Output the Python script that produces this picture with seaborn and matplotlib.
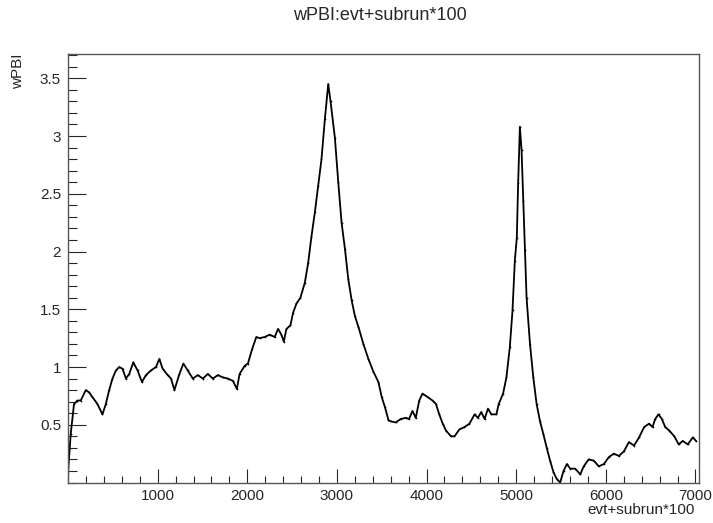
import seaborn as sns
from matplotlib import pyplot as plt
from matplotlib.ticker import MultipleLocator
import pandas as pd

# values
evt = [0, 30, 67, 104, 142, 198, 235, 272, 328, 384, 422, 459, 496, 534, 571,
       608, 646, 683, 728, 776, 825, 869, 925, 981, 1019, 1056, 1112, 1149,
       1187, 1243, 1287, 1336, 1392, 1448, 1504, 1560, 1616, 1672, 1728, 1784,
       1840, 1884, 1914, 1970, 2007, 2056, 2101, 2138, 2194, 2250, 2306, 2343,
       2381, 2407, 2437, 2481, 2511, 2549, 2593, 2642, 2679, 2716, 2754, 2791,
       2828, 2866, 2903, 2929, 2978, 3015, 3052, 3090, 3127, 3164, 3201, 3239,
       3295, 3351, 3407, 3463, 3500, 3537, 3575, 3599, 3655, 3712, 3768, 3805,
       3843, 3880, 3918, 3955, 4011, 4067, 4105, 4142, 4180, 4217, 4273, 4311,
       4367, 4423, 4479, 4536, 4573, 4610, 4648, 4685, 4723, 4779, 4805, 4854,
       4891, 4929, 4959, 4985, 5007, 5022, 5041, 5060, 5079, 5097, 5116, 5154,
       5191, 5228, 5266, 5303, 5341, 5378, 5416, 5453, 5491, 5528, 5566, 5603,
       5659, 5715, 5753, 5809, 5865, 5921, 5978, 6034, 6090, 6146, 6202, 6258,
       6315, 6371, 6427, 6483, 6521, 6551, 6588, 6625, 6663, 6708, 6764, 6813,
       6858, 6914, 6970, 7007]
wpbi = [0.08, 0.42, 0.68, 0.71, 0.71, 0.80, 0.78, 0.74, 0.68, 0.59, 0.68, 0.80,
        0.90, 0.97, 1.00, 0.985, 0.90, 0.94, 1.04, 0.97, 0.87, 0.93, 0.97, 1.00,
        1.07, 0.985, 0.93, 0.90, 0.80, 0.94, 1.03, 0.97, 0.90, 0.93, 0.90, 0.94,
        0.90, 0.93, 0.91, 0.90, 0.88, 0.81, 0.94, 1.01, 1.03, 1.16, 1.26, 1.25,
        1.26, 1.28, 1.26, 1.33, 1.28, 1.22, 1.33, 1.36, 1.47, 1.55, 1.60, 1.73,
        1.90, 2.13, 2.34, 2.57, 2.80, 3.15, 3.45, 3.30, 2.98, 2.60, 2.25, 2.02,
        1.76, 1.58, 1.44, 1.35, 1.20, 1.07, 0.96, 0.87, 0.74, 0.65, 0.54, 0.53,
        0.52, 0.55, 0.56, 0.55, 0.62, 0.56, 0.71, 0.77, 0.74, 0.71, 0.68, 0.59,
        0.51, 0.45, 0.40, 0.40, 0.46, 0.48, 0.51, 0.59, 0.56, 0.61, 0.55, 0.64,
        0.59, 0.59, 0.68, 0.77, 0.91, 1.17, 1.49, 1.92, 2.12, 2.59, 3.08, 2.88,
        2.44, 2.01, 1.60, 1.20, 0.91, 0.68, 0.53, 0.42, 0.30, 0.19, 0.09, 0.03,
        0.00, 0.10, 0.16, 0.12, 0.12, 0.07, 0.14, 0.20, 0.19, 0.14, 0.16, 0.22,
        0.25, 0.23, 0.27, 0.35, 0.32, 0.39, 0.48, 0.51, 0.48, 0.55, 0.59, 0.55,
        0.48, 0.45, 0.40, 0.33, 0.36, 0.33, 0.39, 0.36]

df = pd.DataFrame({"evt": evt, "wPBI": wpbi})

sns.set_style("white")
plt.rcParams['font.family'] = ['Liberation Sans', 'DejaVu Sans']

fig = plt.figure(figsize=(7.13, 5.23), dpi=100)
ax = fig.add_axes([0.0954, 0.0774, 0.885, 0.8193])

sns.lineplot(x="evt", y="wPBI", data=df, ax=ax, color="black",
             linewidth=1.3, marker=".", markersize=2.5, markeredgewidth=0)

ax.set_xlim(0, 7040)
ax.set_ylim(0, 3.71)
ax.xaxis.set_major_locator(MultipleLocator(1000))
ax.xaxis.set_minor_locator(MultipleLocator(200))
ax.yaxis.set_major_locator(MultipleLocator(0.5))
ax.yaxis.set_minor_locator(MultipleLocator(0.1))
ax.set_xticks([1000, 2000, 3000, 4000, 5000, 6000, 7000])
ax.set_yticks([0.5, 1, 1.5, 2, 2.5, 3, 3.5])
ax.set_yticklabels(["0.5", "1", "1.5", "2", "2.5", "3", "3.5"])

ax.tick_params(axis="x", which="major", direction="in", length=10, width=0.8,
               labelsize=11, pad=5, bottom=True)
ax.tick_params(axis="x", which="minor", direction="in", length=5, width=0.8,
               bottom=True)
ax.tick_params(axis="y", which="major", direction="in", length=13, width=0.8,
               labelsize=11, pad=5, left=True)
ax.tick_params(axis="y", which="minor", direction="in", length=6.5, width=0.8,
               left=True)

for s in ax.spines.values():
    s.set_color("#555555")
    s.set_linewidth(1.0)

ax.set_xlabel("")
ax.set_ylabel("")
fig.text(0.975, 0.012, "evt+subrun*100", ha="right", va="bottom", fontsize=11)
fig.text(0.016, 0.897, "wPBI", ha="left", va="top", rotation=90, fontsize=11)
fig.text(0.533, 0.97, "wPBI:evt+subrun*100", ha="center", va="center",
         fontsize=13)

fig.savefig("out.png", dpi=100)
